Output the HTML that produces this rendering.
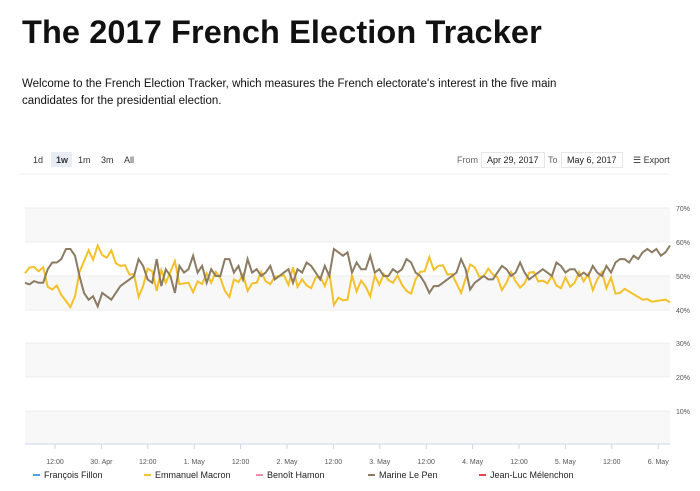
<!DOCTYPE html>
<html><head><meta charset="utf-8"><style>
body{margin:0;width:700px;height:491px;background:#fff;font-family:"Liberation Sans",sans-serif;color:#111;overflow:hidden;position:relative}
h1{position:absolute;left:22px;top:14px;margin:0;font-size:32.5px;font-weight:bold;letter-spacing:0.1px}
p{position:absolute;left:22px;top:76px;margin:0;font-size:11.5px;line-height:17px;width:560px}
.t{position:absolute;font-size:9px;color:#333}
.box{position:absolute;border:1px solid #e6e6e6;font-size:9px;padding:2px 5px;color:#222}
</style></head><body>
<h1>The 2017 French Election Tracker</h1>
<p>Welcome to the French Election Tracker, which measures the French electorate's interest in the five main candidates for the presidential election.</p>
<div class="t" style="left:33px;top:155px">1d</div>
<div style="position:absolute;left:51px;top:152px;width:21px;height:15px;background:#e8ecf4"></div>
<div class="t" style="left:56px;top:155px;font-weight:bold">1w</div>
<div class="t" style="left:78px;top:155px">1m</div>
<div class="t" style="left:101px;top:155px">3m</div>
<div class="t" style="left:124px;top:155px">All</div>
<div class="t" style="left:457px;top:155px;color:#666">From</div>
<div class="box" style="left:481px;top:152px">Apr 29, 2017</div>
<div class="t" style="left:548px;top:155px;color:#666">To</div>
<div class="box" style="left:561px;top:152px">May 6, 2017</div>
<div class="t" style="left:633px;top:155px">☰ Export</div>
<svg width="700" height="491" style="position:absolute;left:0;top:0" id="s">
<line x1="18" y1="174" x2="670" y2="174" stroke="#f2f2f2"/>
<rect x="25" y="208" width="645" height="34" fill="#f8f8f8"/>
<rect x="25" y="276" width="645" height="34" fill="#f8f8f8"/>
<rect x="25" y="343" width="645" height="34" fill="#f8f8f8"/>
<rect x="25" y="411" width="645" height="33" fill="#f8f8f8"/>
<g stroke="#ececec"><line x1="25" x2="670" y1="208" y2="208"/><line x1="25" x2="670" y1="242" y2="242"/><line x1="25" x2="670" y1="276" y2="276"/><line x1="25" x2="670" y1="310" y2="310"/><line x1="25" x2="670" y1="343" y2="343"/><line x1="25" x2="670" y1="377" y2="377"/><line x1="25" x2="670" y1="411" y2="411"/></g>
<line x1="25" x2="670" y1="444" y2="444" stroke="#ccd6eb"/>
<g font-size="7" fill="#555" text-anchor="start">
<text x="676" y="211">70%</text><text x="676" y="245">60%</text><text x="676" y="279">50%</text><text x="676" y="313">40%</text><text x="676" y="346">30%</text><text x="676" y="380">20%</text><text x="676" y="414">10%</text></g>
<g id="xl" font-size="7" fill="#555" text-anchor="middle"></g>
<g id="ln"></g>
<g font-size="9" fill="#222">
<rect x="33" y="474" width="7" height="2" fill="#4aa3df"/><text x="44" y="478">François Fillon</text>
<rect x="144" y="474" width="7" height="2" fill="#f5c12a"/><text x="155" y="478">Emmanuel Macron</text>
<rect x="256" y="474" width="7" height="2" fill="#f08bb0"/><text x="267" y="478">Benoît Hamon</text>
<rect x="368" y="474" width="7" height="2" fill="#8b7b63"/><text x="379" y="478">Marine Le Pen</text>
<rect x="479" y="474" width="7" height="2" fill="#e8434e"/><text x="490" y="478">Jean-Luc Mélenchon</text>
</g>
</svg>
<script>
var labs=["12:00","30. Apr","12:00","1. May","12:00","2. May","12:00","3. May","12:00","4. May","12:00","5. May","12:00","6. May"];
var xl=document.getElementById('xl'),h='';
for(var i=0;i<labs.length;i++){var x=55+i*46.4;h+='<text x="'+x+'" y="464">'+labs[i]+'</text><line x1="'+x+'" x2="'+x+'" y1="444" y2="449" stroke="#ccd6eb"/>';}
xl.innerHTML=h;
var lp=[48,47.5,48.5,48,48,52,54,54,55,58,58,56,50,45,43,44,41,45,44,43,45,47,48,49,50,55,53,49,48,55,47,52,50,45,53,51,52,56,51,53,48,52,50,50,55,55,51,53,49,55,51,52,50,51,53,49,50,51,52,48,52,51,54,53,51,49,53,50,58,57,56,57,51,54,52,52,56,51,52,50,50,52,51,52,55,54,51,50,48,45,47,47,48,49,50,51,55,52,46,48,49,50,49,49,51,53,52,50,51,54,51,49,50,51,52,51,50,54,53,51,52,52,50,51,50,53,51,50,53,51,54,55,55,54,56,55,57,58,57,58,56,57,59];
var n=lp.length,a='',b='';
function Y(v){return 276-(v-50)*3.38;}
for(var i=0;i<n;i++){var x=25+i*645/(n-1);var m=100-lp[i]+((i*7)%5-2)*0.6;a+=x.toFixed(1)+','+Y(lp[i]).toFixed(1)+' ';b+=x.toFixed(1)+','+Y(m).toFixed(1)+' ';}
document.getElementById('ln').innerHTML='<polyline points="'+b+'" fill="none" stroke="#f5c12a" stroke-width="2"/><polyline points="'+a+'" fill="none" stroke="#8b7b63" stroke-width="2"/>';
</script>
</body></html>
